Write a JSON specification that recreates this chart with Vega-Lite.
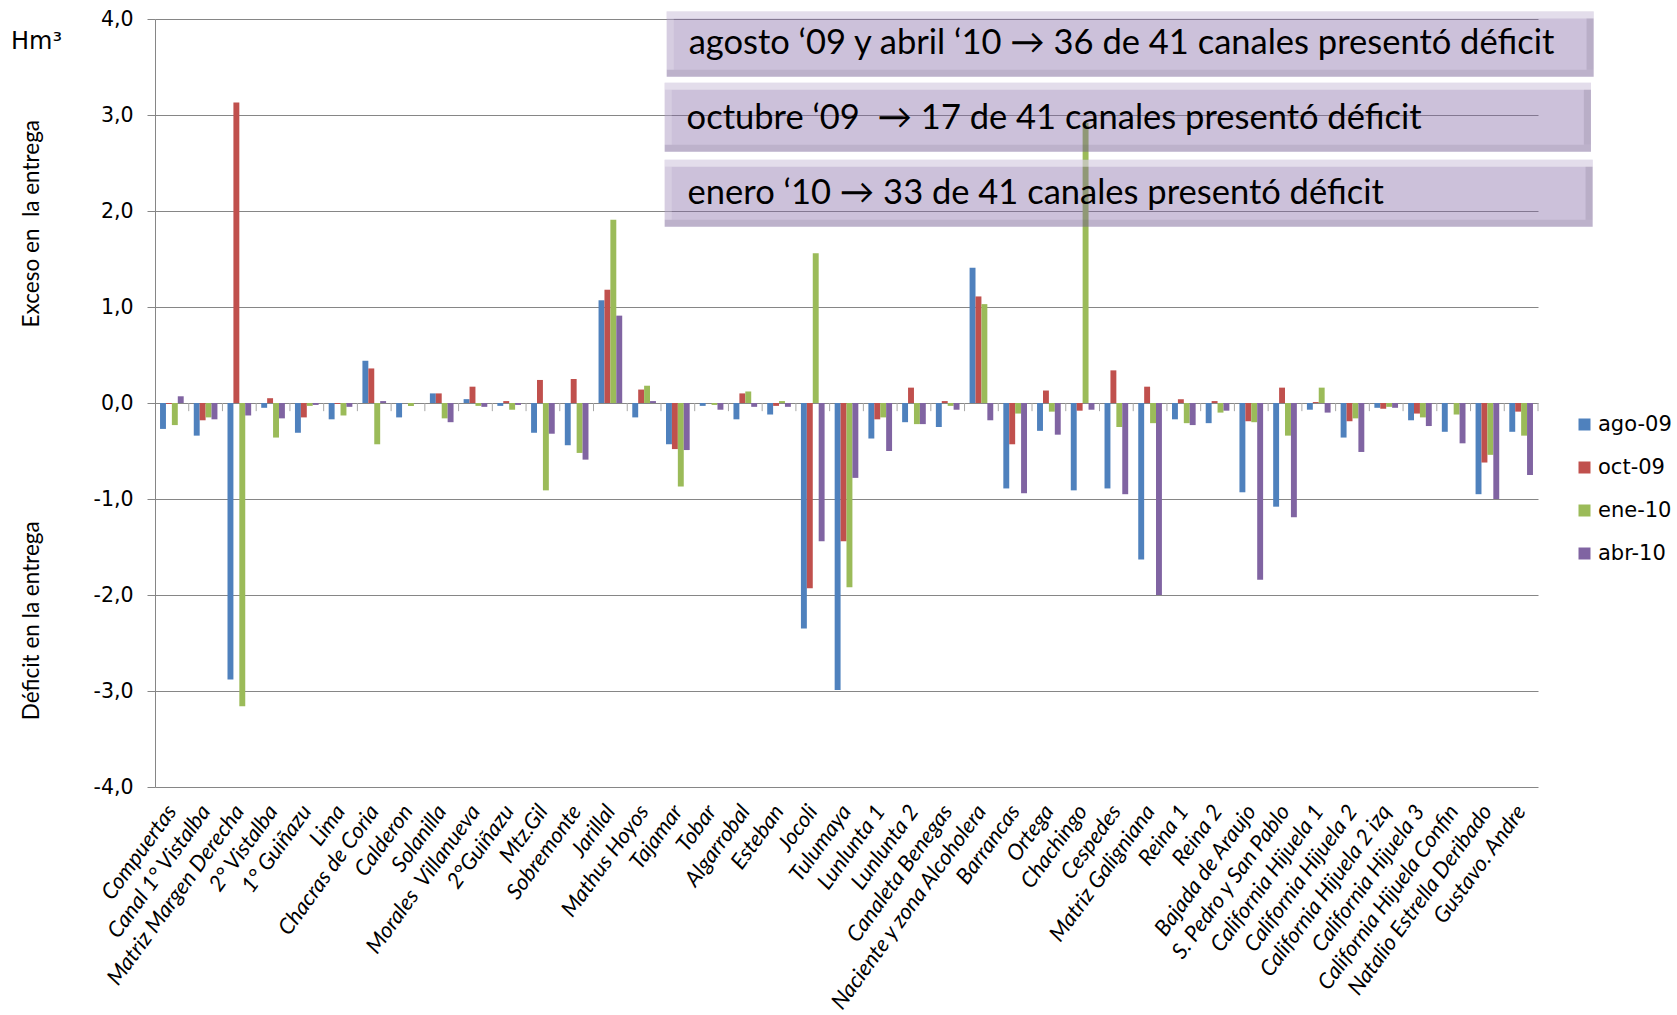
{
  "$schema": "https://vega.github.io/schema/vega-lite/v6.json",
  "width": 1383,
  "height": 768,
  "autosize": {"type": "none"},
  "padding": {"left": 155, "top": 19, "right": 139, "bottom": 228},
  "background": "white",
  "config": {"view": {"stroke": null}, "font": "Lato"},
  "datasets": {
    "entrega": [
      {"canal": "Compuertas", "serie": "ago-09", "valor": -0.27}, {"canal": "Compuertas", "serie": "oct-09", "valor": -0.01}, {"canal": "Compuertas", "serie": "ene-10", "valor": -0.23}, {"canal": "Compuertas", "serie": "abr-10", "valor": 0.07},
      {"canal": "Canal 1° Vistalba", "serie": "ago-09", "valor": -0.34}, {"canal": "Canal 1° Vistalba", "serie": "oct-09", "valor": -0.18}, {"canal": "Canal 1° Vistalba", "serie": "ene-10", "valor": -0.15}, {"canal": "Canal 1° Vistalba", "serie": "abr-10", "valor": -0.17},
      {"canal": "Matriz Margen Derecha", "serie": "ago-09", "valor": -2.88}, {"canal": "Matriz Margen Derecha", "serie": "oct-09", "valor": 3.13}, {"canal": "Matriz Margen Derecha", "serie": "ene-10", "valor": -3.16}, {"canal": "Matriz Margen Derecha", "serie": "abr-10", "valor": -0.13},
      {"canal": "2° Vistalba", "serie": "ago-09", "valor": -0.05}, {"canal": "2° Vistalba", "serie": "oct-09", "valor": 0.05}, {"canal": "2° Vistalba", "serie": "ene-10", "valor": -0.36}, {"canal": "2° Vistalba", "serie": "abr-10", "valor": -0.16},
      {"canal": "1° Guiñazu", "serie": "ago-09", "valor": -0.31}, {"canal": "1° Guiñazu", "serie": "oct-09", "valor": -0.15}, {"canal": "1° Guiñazu", "serie": "ene-10", "valor": -0.03}, {"canal": "1° Guiñazu", "serie": "abr-10", "valor": -0.02},
      {"canal": "Lima", "serie": "ago-09", "valor": -0.17}, {"canal": "Lima", "serie": "oct-09", "valor": -0.01}, {"canal": "Lima", "serie": "ene-10", "valor": -0.13}, {"canal": "Lima", "serie": "abr-10", "valor": -0.04},
      {"canal": "Chacras de Coria", "serie": "ago-09", "valor": 0.44}, {"canal": "Chacras de Coria", "serie": "oct-09", "valor": 0.36}, {"canal": "Chacras de Coria", "serie": "ene-10", "valor": -0.43}, {"canal": "Chacras de Coria", "serie": "abr-10", "valor": 0.02},
      {"canal": "Calderon", "serie": "ago-09", "valor": -0.15}, {"canal": "Calderon", "serie": "oct-09", "valor": 0.0}, {"canal": "Calderon", "serie": "ene-10", "valor": -0.03}, {"canal": "Calderon", "serie": "abr-10", "valor": 0.0},
      {"canal": "Solanilla", "serie": "ago-09", "valor": 0.10}, {"canal": "Solanilla", "serie": "oct-09", "valor": 0.10}, {"canal": "Solanilla", "serie": "ene-10", "valor": -0.16}, {"canal": "Solanilla", "serie": "abr-10", "valor": -0.20},
      {"canal": "Morales  Villanueva", "serie": "ago-09", "valor": 0.04}, {"canal": "Morales  Villanueva", "serie": "oct-09", "valor": 0.17}, {"canal": "Morales  Villanueva", "serie": "ene-10", "valor": -0.03}, {"canal": "Morales  Villanueva", "serie": "abr-10", "valor": -0.04},
      {"canal": "2°Guiñazu", "serie": "ago-09", "valor": -0.03}, {"canal": "2°Guiñazu", "serie": "oct-09", "valor": 0.02}, {"canal": "2°Guiñazu", "serie": "ene-10", "valor": -0.07}, {"canal": "2°Guiñazu", "serie": "abr-10", "valor": -0.02},
      {"canal": "Mtz.Gil", "serie": "ago-09", "valor": -0.31}, {"canal": "Mtz.Gil", "serie": "oct-09", "valor": 0.24}, {"canal": "Mtz.Gil", "serie": "ene-10", "valor": -0.91}, {"canal": "Mtz.Gil", "serie": "abr-10", "valor": -0.32},
      {"canal": "Sobremonte", "serie": "ago-09", "valor": -0.44}, {"canal": "Sobremonte", "serie": "oct-09", "valor": 0.25}, {"canal": "Sobremonte", "serie": "ene-10", "valor": -0.52}, {"canal": "Sobremonte", "serie": "abr-10", "valor": -0.59},
      {"canal": "Jarillal", "serie": "ago-09", "valor": 1.07}, {"canal": "Jarillal", "serie": "oct-09", "valor": 1.18}, {"canal": "Jarillal", "serie": "ene-10", "valor": 1.91}, {"canal": "Jarillal", "serie": "abr-10", "valor": 0.91},
      {"canal": "Mathus Hoyos", "serie": "ago-09", "valor": -0.15}, {"canal": "Mathus Hoyos", "serie": "oct-09", "valor": 0.14}, {"canal": "Mathus Hoyos", "serie": "ene-10", "valor": 0.18}, {"canal": "Mathus Hoyos", "serie": "abr-10", "valor": 0.02},
      {"canal": "Tajamar", "serie": "ago-09", "valor": -0.43}, {"canal": "Tajamar", "serie": "oct-09", "valor": -0.48}, {"canal": "Tajamar", "serie": "ene-10", "valor": -0.87}, {"canal": "Tajamar", "serie": "abr-10", "valor": -0.49},
      {"canal": "Tobar", "serie": "ago-09", "valor": -0.03}, {"canal": "Tobar", "serie": "oct-09", "valor": 0.0}, {"canal": "Tobar", "serie": "ene-10", "valor": -0.02}, {"canal": "Tobar", "serie": "abr-10", "valor": -0.07},
      {"canal": "Algarrobal", "serie": "ago-09", "valor": -0.17}, {"canal": "Algarrobal", "serie": "oct-09", "valor": 0.10}, {"canal": "Algarrobal", "serie": "ene-10", "valor": 0.12}, {"canal": "Algarrobal", "serie": "abr-10", "valor": -0.04},
      {"canal": "Esteban", "serie": "ago-09", "valor": -0.12}, {"canal": "Esteban", "serie": "oct-09", "valor": -0.03}, {"canal": "Esteban", "serie": "ene-10", "valor": 0.02}, {"canal": "Esteban", "serie": "abr-10", "valor": -0.04},
      {"canal": "Jocoli", "serie": "ago-09", "valor": -2.35}, {"canal": "Jocoli", "serie": "oct-09", "valor": -1.93}, {"canal": "Jocoli", "serie": "ene-10", "valor": 1.56}, {"canal": "Jocoli", "serie": "abr-10", "valor": -1.44},
      {"canal": "Tulumaya", "serie": "ago-09", "valor": -2.99}, {"canal": "Tulumaya", "serie": "oct-09", "valor": -1.44}, {"canal": "Tulumaya", "serie": "ene-10", "valor": -1.92}, {"canal": "Tulumaya", "serie": "abr-10", "valor": -0.78},
      {"canal": "Lunlunta 1", "serie": "ago-09", "valor": -0.37}, {"canal": "Lunlunta 1", "serie": "oct-09", "valor": -0.17}, {"canal": "Lunlunta 1", "serie": "ene-10", "valor": -0.15}, {"canal": "Lunlunta 1", "serie": "abr-10", "valor": -0.50},
      {"canal": "Lunlunta 2", "serie": "ago-09", "valor": -0.20}, {"canal": "Lunlunta 2", "serie": "oct-09", "valor": 0.16}, {"canal": "Lunlunta 2", "serie": "ene-10", "valor": -0.22}, {"canal": "Lunlunta 2", "serie": "abr-10", "valor": -0.22},
      {"canal": "Canaleta Benegas", "serie": "ago-09", "valor": -0.25}, {"canal": "Canaleta Benegas", "serie": "oct-09", "valor": 0.02}, {"canal": "Canaleta Benegas", "serie": "ene-10", "valor": -0.03}, {"canal": "Canaleta Benegas", "serie": "abr-10", "valor": -0.07},
      {"canal": "Naciente y zona Alcoholera", "serie": "ago-09", "valor": 1.41}, {"canal": "Naciente y zona Alcoholera", "serie": "oct-09", "valor": 1.11}, {"canal": "Naciente y zona Alcoholera", "serie": "ene-10", "valor": 1.03}, {"canal": "Naciente y zona Alcoholera", "serie": "abr-10", "valor": -0.18},
      {"canal": "Barrancas", "serie": "ago-09", "valor": -0.89}, {"canal": "Barrancas", "serie": "oct-09", "valor": -0.43}, {"canal": "Barrancas", "serie": "ene-10", "valor": -0.11}, {"canal": "Barrancas", "serie": "abr-10", "valor": -0.94},
      {"canal": "Ortega", "serie": "ago-09", "valor": -0.29}, {"canal": "Ortega", "serie": "oct-09", "valor": 0.13}, {"canal": "Ortega", "serie": "ene-10", "valor": -0.09}, {"canal": "Ortega", "serie": "abr-10", "valor": -0.33},
      {"canal": "Chachingo", "serie": "ago-09", "valor": -0.91}, {"canal": "Chachingo", "serie": "oct-09", "valor": -0.08}, {"canal": "Chachingo", "serie": "ene-10", "valor": 2.92}, {"canal": "Chachingo", "serie": "abr-10", "valor": -0.07},
      {"canal": "Cespedes", "serie": "ago-09", "valor": -0.89}, {"canal": "Cespedes", "serie": "oct-09", "valor": 0.34}, {"canal": "Cespedes", "serie": "ene-10", "valor": -0.25}, {"canal": "Cespedes", "serie": "abr-10", "valor": -0.95},
      {"canal": "Matriz Galigniana", "serie": "ago-09", "valor": -1.63}, {"canal": "Matriz Galigniana", "serie": "oct-09", "valor": 0.17}, {"canal": "Matriz Galigniana", "serie": "ene-10", "valor": -0.21}, {"canal": "Matriz Galigniana", "serie": "abr-10", "valor": -2.00},
      {"canal": "Reina 1", "serie": "ago-09", "valor": -0.17}, {"canal": "Reina 1", "serie": "oct-09", "valor": 0.04}, {"canal": "Reina 1", "serie": "ene-10", "valor": -0.21}, {"canal": "Reina 1", "serie": "abr-10", "valor": -0.23},
      {"canal": "Reina 2", "serie": "ago-09", "valor": -0.21}, {"canal": "Reina 2", "serie": "oct-09", "valor": 0.02}, {"canal": "Reina 2", "serie": "ene-10", "valor": -0.10}, {"canal": "Reina 2", "serie": "abr-10", "valor": -0.08},
      {"canal": "Bajada de Araujo", "serie": "ago-09", "valor": -0.93}, {"canal": "Bajada de Araujo", "serie": "oct-09", "valor": -0.19}, {"canal": "Bajada de Araujo", "serie": "ene-10", "valor": -0.20}, {"canal": "Bajada de Araujo", "serie": "abr-10", "valor": -1.84},
      {"canal": "S. Pedro y San Pablo", "serie": "ago-09", "valor": -1.08}, {"canal": "S. Pedro y San Pablo", "serie": "oct-09", "valor": 0.16}, {"canal": "S. Pedro y San Pablo", "serie": "ene-10", "valor": -0.34}, {"canal": "S. Pedro y San Pablo", "serie": "abr-10", "valor": -1.19},
      {"canal": "California Hijuela 1", "serie": "ago-09", "valor": -0.07}, {"canal": "California Hijuela 1", "serie": "oct-09", "valor": 0.01}, {"canal": "California Hijuela 1", "serie": "ene-10", "valor": 0.16}, {"canal": "California Hijuela 1", "serie": "abr-10", "valor": -0.10},
      {"canal": "California Hijuela 2", "serie": "ago-09", "valor": -0.36}, {"canal": "California Hijuela 2", "serie": "oct-09", "valor": -0.19}, {"canal": "California Hijuela 2", "serie": "ene-10", "valor": -0.16}, {"canal": "California Hijuela 2", "serie": "abr-10", "valor": -0.51},
      {"canal": "California Hijuela 2 izq", "serie": "ago-09", "valor": -0.05}, {"canal": "California Hijuela 2 izq", "serie": "oct-09", "valor": -0.06}, {"canal": "California Hijuela 2 izq", "serie": "ene-10", "valor": -0.04}, {"canal": "California Hijuela 2 izq", "serie": "abr-10", "valor": -0.05},
      {"canal": "California Hijuela 3", "serie": "ago-09", "valor": -0.18}, {"canal": "California Hijuela 3", "serie": "oct-09", "valor": -0.11}, {"canal": "California Hijuela 3", "serie": "ene-10", "valor": -0.15}, {"canal": "California Hijuela 3", "serie": "abr-10", "valor": -0.24},
      {"canal": "California Hijuela Confin", "serie": "ago-09", "valor": -0.30}, {"canal": "California Hijuela Confin", "serie": "oct-09", "valor": 0.0}, {"canal": "California Hijuela Confin", "serie": "ene-10", "valor": -0.12}, {"canal": "California Hijuela Confin", "serie": "abr-10", "valor": -0.42},
      {"canal": "Natalio Estrella Deribado", "serie": "ago-09", "valor": -0.95}, {"canal": "Natalio Estrella Deribado", "serie": "oct-09", "valor": -0.62}, {"canal": "Natalio Estrella Deribado", "serie": "ene-10", "valor": -0.54}, {"canal": "Natalio Estrella Deribado", "serie": "abr-10", "valor": -1.00},
      {"canal": "Gustavo. Andre", "serie": "ago-09", "valor": -0.30}, {"canal": "Gustavo. Andre", "serie": "oct-09", "valor": -0.09}, {"canal": "Gustavo. Andre", "serie": "ene-10", "valor": -0.34}, {"canal": "Gustavo. Andre", "serie": "abr-10", "valor": -0.75}
    ]
  },
  "resolve": {"scale": {"x": "independent", "y": "independent"}},
  "layer": [
    {
      "data": {"name": "entrega"},
      "layer": [
        {
          "mark": {"type": "bar"},
          "encoding": {
            "x": {
              "field": "canal", "type": "nominal", "sort": null,
              "scale": {"paddingInner": 0, "paddingOuter": 0},
              "axis": {
                "title": null, "domain": false, "ticks": false, "tickSize": 0, "grid": false,
                "labelAngle": -54, "labelAlign": "right", "labelBaseline": "middle",
                "labelFont": "Lato", "labelFontStyle": "italic", "labelFontSize": 22,
                "labelColor": "#000000", "labelPadding": 20, "labelOverlap": false, "labelLimit": 0,
                "labelExpr": "replace(datum.label, '  ', ' \u00a0')"
              }
            },
            "xOffset": {
              "field": "serie", "type": "nominal",
              "sort": ["ago-09", "oct-09", "ene-10", "abr-10"],
              "scale": {"paddingInner": 0, "paddingOuter": 0.85}
            },
            "y": {
              "field": "valor", "type": "quantitative", "stack": null,
              "scale": {"domain": [-4, 4], "nice": false, "zero": false},
              "axis": {
                "title": null, "values": [-4, -3, -2, -1, 0, 1, 2, 3, 4],
                "labelExpr": "replace(replace(format(datum.value, '.1f'), '.', ','), '\u2212', '-')",
                "grid": true, "gridColor": "#868686", "gridWidth": 1,
                "domainColor": "#868686", "tickColor": "#868686", "tickSize": 8,
                "labelFont": "DejaVu Sans", "labelFontSize": 20.5, "labelColor": "#000000", "labelPadding": 14
              }
            },
            "color": {
              "field": "serie", "type": "nominal",
              "sort": ["ago-09", "oct-09", "ene-10", "abr-10"],
              "scale": {"domain": ["ago-09", "oct-09", "ene-10", "abr-10"], "range": ["#4f81bd", "#c0504d", "#9bbb59", "#8064a2"]},
              "legend": {
                "title": null, "orient": "none", "legendX": 1419, "legendY": 395,
                "symbolType": "square", "symbolSize": 144, "symbolStrokeWidth": 0,
                "labelFont": "DejaVu Sans", "labelFontSize": 21, "labelColor": "#000000",
                "labelOffset": 3, "rowPadding": 21
              }
            }
          }
        },
        {
          "transform": [{"filter": "datum.serie == 'ago-09'"}],
          "mark": {"type": "rule", "color": "#a6a6a6", "strokeWidth": 1},
          "encoding": {
            "x": {"field": "canal", "type": "nominal", "sort": null, "bandPosition": 1},
            "y": {"datum": 0, "type": "quantitative", "scale": {"domain": [-4, 4], "nice": false, "zero": false}},
            "y2": {"datum": -0.085}
          }
        }
      ]
    },
    {
      "data": {"values": [{"nota": "agosto ‘09 y abril ‘10 → 36 de 41 canales presentó déficit"}]},
      "layer": [
        {"mark": {"type": "rect", "fill": "#8064a2", "fillOpacity": 0.4},
         "encoding": {"x": {"datum": 15.17, "type": "quantitative", "scale": {"domain": [0, 41], "nice": false, "zero": false}, "axis": null}, "x2": {"datum": 42.65},
                      "y": {"datum": 4.079, "type": "quantitative", "scale": {"domain": [-4, 4], "nice": false, "zero": false}, "axis": null}, "y2": {"datum": 3.399}}},
        {"mark": {"type": "rect", "fill": "#ffffff", "fillOpacity": 0.45},
         "encoding": {"x": {"datum": 15.17, "type": "quantitative"}, "x2": {"datum": 42.65}, "y": {"datum": 4.079, "type": "quantitative"}, "y2": {"datum": 4.006}}},
        {"mark": {"type": "rect", "fill": "#3f3151", "fillOpacity": 0.1},
         "encoding": {"x": {"datum": 15.17, "type": "quantitative"}, "x2": {"datum": 42.65}, "y": {"datum": 3.472, "type": "quantitative"}, "y2": {"datum": 3.399}}},
        {"mark": {"type": "rect", "fill": "#ffffff", "fillOpacity": 0.2},
         "encoding": {"x": {"datum": 15.17, "type": "quantitative"}, "x2": {"datum": 15.38}, "y": {"datum": 4.006, "type": "quantitative"}, "y2": {"datum": 3.472}}},
        {"mark": {"type": "rect", "fill": "#3f3151", "fillOpacity": 0.13},
         "encoding": {"x": {"datum": 42.44, "type": "quantitative"}, "x2": {"datum": 42.65}, "y": {"datum": 4.006, "type": "quantitative"}, "y2": {"datum": 3.472}}},
        {"mark": {"type": "text", "align": "left", "baseline": "middle", "font": "Lato", "fontSize": 34.5, "color": "#000000"},
         "encoding": {"x": {"datum": 15.82, "type": "quantitative"}, "y": {"datum": 3.743, "type": "quantitative"}, "text": {"field": "nota"}}}
      ]
    },
    {
      "data": {"values": [{"nota": "octubre ‘09 \u00a0→ 17 de 41 canales presentó déficit"}]},
      "layer": [
        {"mark": {"type": "rect", "fill": "#8064a2", "fillOpacity": 0.4},
         "encoding": {"x": {"datum": 15.11, "type": "quantitative", "scale": {"domain": [0, 41], "nice": false, "zero": false}, "axis": null}, "x2": {"datum": 42.57},
                      "y": {"datum": 3.336, "type": "quantitative", "scale": {"domain": [-4, 4], "nice": false, "zero": false}, "axis": null}, "y2": {"datum": 2.618}}},
        {"mark": {"type": "rect", "fill": "#ffffff", "fillOpacity": 0.45},
         "encoding": {"x": {"datum": 15.11, "type": "quantitative"}, "x2": {"datum": 42.57}, "y": {"datum": 3.336, "type": "quantitative"}, "y2": {"datum": 3.263}}},
        {"mark": {"type": "rect", "fill": "#3f3151", "fillOpacity": 0.1},
         "encoding": {"x": {"datum": 15.11, "type": "quantitative"}, "x2": {"datum": 42.57}, "y": {"datum": 2.691, "type": "quantitative"}, "y2": {"datum": 2.618}}},
        {"mark": {"type": "rect", "fill": "#ffffff", "fillOpacity": 0.2},
         "encoding": {"x": {"datum": 15.11, "type": "quantitative"}, "x2": {"datum": 15.32}, "y": {"datum": 3.263, "type": "quantitative"}, "y2": {"datum": 2.691}}},
        {"mark": {"type": "rect", "fill": "#3f3151", "fillOpacity": 0.13},
         "encoding": {"x": {"datum": 42.36, "type": "quantitative"}, "x2": {"datum": 42.57}, "y": {"datum": 3.263, "type": "quantitative"}, "y2": {"datum": 2.691}}},
        {"mark": {"type": "text", "align": "left", "baseline": "middle", "font": "Lato", "fontSize": 34.5, "color": "#000000"},
         "encoding": {"x": {"datum": 15.76, "type": "quantitative"}, "y": {"datum": 2.96, "type": "quantitative"}, "text": {"field": "nota"}}}
      ]
    },
    {
      "data": {"values": [{"nota": "enero ‘10 → 33 de 41 canales presentó déficit"}]},
      "layer": [
        {"mark": {"type": "rect", "fill": "#8064a2", "fillOpacity": 0.4},
         "encoding": {"x": {"datum": 15.11, "type": "quantitative", "scale": {"domain": [0, 41], "nice": false, "zero": false}, "axis": null}, "x2": {"datum": 42.62},
                      "y": {"datum": 2.534, "type": "quantitative", "scale": {"domain": [-4, 4], "nice": false, "zero": false}, "axis": null}, "y2": {"datum": 1.836}}},
        {"mark": {"type": "rect", "fill": "#ffffff", "fillOpacity": 0.45},
         "encoding": {"x": {"datum": 15.11, "type": "quantitative"}, "x2": {"datum": 42.62}, "y": {"datum": 2.534, "type": "quantitative"}, "y2": {"datum": 2.461}}},
        {"mark": {"type": "rect", "fill": "#3f3151", "fillOpacity": 0.1},
         "encoding": {"x": {"datum": 15.11, "type": "quantitative"}, "x2": {"datum": 42.62}, "y": {"datum": 1.909, "type": "quantitative"}, "y2": {"datum": 1.836}}},
        {"mark": {"type": "rect", "fill": "#ffffff", "fillOpacity": 0.2},
         "encoding": {"x": {"datum": 15.11, "type": "quantitative"}, "x2": {"datum": 15.32}, "y": {"datum": 2.461, "type": "quantitative"}, "y2": {"datum": 1.909}}},
        {"mark": {"type": "rect", "fill": "#3f3151", "fillOpacity": 0.13},
         "encoding": {"x": {"datum": 42.41, "type": "quantitative"}, "x2": {"datum": 42.62}, "y": {"datum": 2.461, "type": "quantitative"}, "y2": {"datum": 1.909}}},
        {"mark": {"type": "text", "align": "left", "baseline": "middle", "font": "Lato", "fontSize": 34.5, "color": "#000000"},
         "encoding": {"x": {"datum": 15.79, "type": "quantitative"}, "y": {"datum": 2.18, "type": "quantitative"}, "text": {"field": "nota"}}}
      ]
    },
    {
      "data": {"values": [{"rotulo": "Hm³"}]},
      "mark": {"type": "text", "align": "left", "baseline": "middle", "font": "DejaVu Sans", "fontSize": 24, "color": "#000000"},
      "encoding": {
        "x": {"datum": -4.27, "type": "quantitative", "scale": {"domain": [0, 41], "nice": false, "zero": false}, "axis": null},
        "y": {"datum": 3.764, "type": "quantitative", "scale": {"domain": [-4, 4], "nice": false, "zero": false}, "axis": null},
        "text": {"field": "rotulo"}
      }
    },
    {
      "data": {"values": [{"rotulo": "Exceso en \u00a0la entrega"}]},
      "mark": {"type": "text", "align": "center", "baseline": "middle", "angle": 270, "font": "Lato", "fontSize": 22.5, "color": "#000000"},
      "encoding": {
        "x": {"datum": -3.656, "type": "quantitative", "scale": {"domain": [0, 41], "nice": false, "zero": false}, "axis": null},
        "y": {"datum": 1.868, "type": "quantitative", "scale": {"domain": [-4, 4], "nice": false, "zero": false}, "axis": null},
        "text": {"field": "rotulo"}
      }
    },
    {
      "data": {"values": [{"rotulo": "Déficit en la entrega"}]},
      "mark": {"type": "text", "align": "center", "baseline": "middle", "angle": 270, "font": "Lato", "fontSize": 22.5, "color": "#000000"},
      "encoding": {
        "x": {"datum": -3.656, "type": "quantitative", "scale": {"domain": [0, 41], "nice": false, "zero": false}, "axis": null},
        "y": {"datum": -2.268, "type": "quantitative", "scale": {"domain": [-4, 4], "nice": false, "zero": false}, "axis": null},
        "text": {"field": "rotulo"}
      }
    }
  ]
}
